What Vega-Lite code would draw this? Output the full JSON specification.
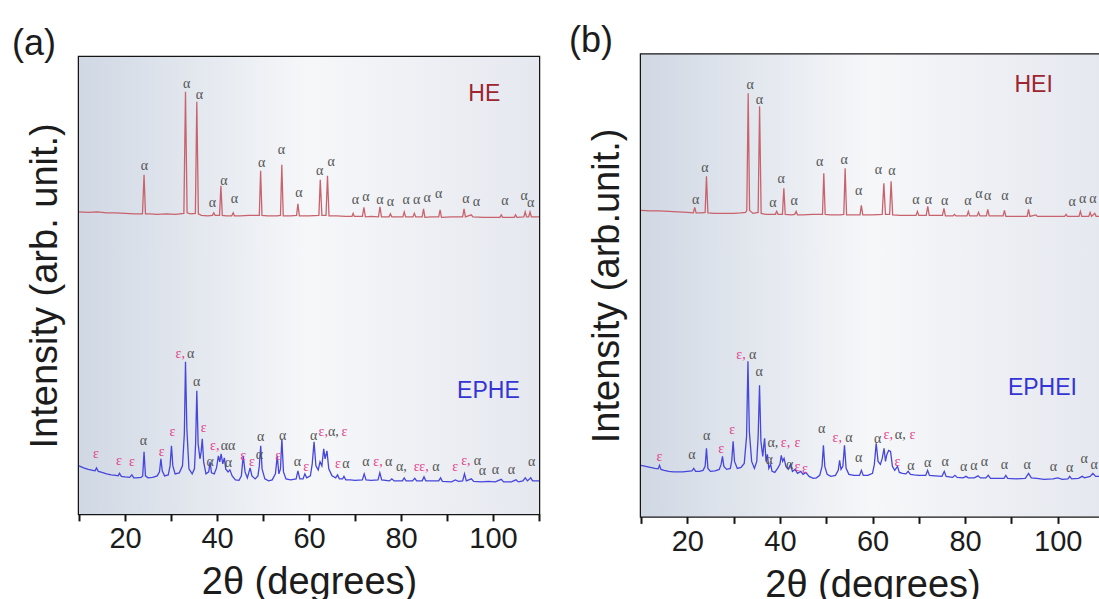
{
  "$schema": "https://vega.github.io/schema/vega-lite/v6.json",
  "background": "white",
  "padding": {"left": 10, "top": 22, "right": 0, "bottom": 0},
  "spacing": 24,
  "align": "each",
  "center": true,
  "config": {
    "view": {"stroke": "#151515", "strokeWidth": 2.5},
    "axisX": {"domain": false, "grid": false, "ticks": true, "tickSize": 7, "tickWidth": 2, "tickColor": "#151515",
      "labelFont": "Liberation Sans", "labelFontSize": 29, "labelColor": "#1c1c1c", "labelPadding": 4,
      "labelOverlap": false, "labelFlush": false, "labelBound": false,
      "titleFont": "Liberation Sans", "titleFontSize": 38, "titleFontWeight": "normal", "titleColor": "#1c1c1c", "titlePadding": 10},
    "axisY": {"domain": false, "grid": false, "ticks": false, "labels": false,
      "titleFont": "Liberation Sans", "titleFontSize": 38, "titleFontWeight": "normal", "titleColor": "#1c1c1c", "titlePadding": 15},
    "title": {"font": "Liberation Sans", "fontSize": 36, "fontWeight": "normal", "color": "#1c1c1c", "anchor": "start", "frame": "group", "baseline": "alphabetic", "offset": -6}
  },
  "datasets": {
    "he": [{"x":10,"y":302},{"x":12,"y":301.5},{"x":14,"y":302},{"x":16,"y":301},{"x":18,"y":301},{"x":20,"y":300.5},{"x":22,"y":300},{"x":23.8,"y":300},{"x":24.14,"y":339},{"x":24.45,"y":300},{"x":25.5,"y":300},{"x":27,"y":299.5},{"x":29,"y":300},{"x":31,"y":299.5},{"x":32.8,"y":300.5},{"x":33.15,"y":422},{"x":33.5,"y":301},{"x":34.2,"y":300},{"x":35.3,"y":300.5},{"x":35.61,"y":412},{"x":35.95,"y":300},{"x":36.6,"y":298.5},{"x":38,"y":298},{"x":39,"y":298.5},{"x":39.3,"y":301},{"x":39.6,"y":298.5},{"x":40.55,"y":298.5},{"x":40.85,"y":328},{"x":41.15,"y":298.5},{"x":42,"y":298},{"x":43.2,"y":298},{"x":43.52,"y":301},{"x":43.8,"y":298},{"x":45,"y":298},{"x":47,"y":298.5},{"x":49.2,"y":298.5},{"x":49.48,"y":343},{"x":49.78,"y":298.5},{"x":51,"y":298},{"x":53,"y":298},{"x":53.8,"y":298.5},{"x":54.09,"y":349},{"x":54.4,"y":298},{"x":56,"y":298},{"x":57.3,"y":298.5},{"x":57.59,"y":310},{"x":57.9,"y":298},{"x":60,"y":298},{"x":62.15,"y":298.5},{"x":62.45,"y":334},{"x":62.8,"y":298.5},{"x":63.7,"y":298.5},{"x":64.02,"y":338},{"x":64.35,"y":298},{"x":66,"y":298},{"x":68,"y":297.5},{"x":69.35,"y":297.5},{"x":69.6,"y":300.5},{"x":69.85,"y":297.5},{"x":71.6,"y":297.5},{"x":71.94,"y":306.5},{"x":72.25,"y":297},{"x":73.5,"y":297.5},{"x":75.1,"y":297},{"x":75.43,"y":307},{"x":75.75,"y":297},{"x":77.4,"y":297},{"x":77.7,"y":300},{"x":78,"y":297},{"x":80.4,"y":297},{"x":80.7,"y":302},{"x":81,"y":297},{"x":82.6,"y":297},{"x":82.9,"y":300.5},{"x":83.2,"y":297},{"x":84.6,"y":297},{"x":84.9,"y":305},{"x":85.2,"y":296.5},{"x":86.5,"y":297},{"x":88.2,"y":297},{"x":88.5,"y":304},{"x":88.8,"y":296.5},{"x":91,"y":297},{"x":93.4,"y":297},{"x":93.7,"y":305},{"x":94,"y":297},{"x":95.3,"y":299},{"x":95.6,"y":297},{"x":98,"y":296.5},{"x":100,"y":296.5},{"x":101.5,"y":296.5},{"x":101.8,"y":299},{"x":102.1,"y":296.5},{"x":104.6,"y":296.5},{"x":104.9,"y":299},{"x":105.2,"y":296.5},{"x":106.7,"y":297},{"x":107,"y":302},{"x":107.3,"y":297},{"x":107.75,"y":297},{"x":108.05,"y":302},{"x":108.35,"y":297},{"x":110,"y":297}],
    "ephe": [{"x":10,"y":48},{"x":11,"y":46},{"x":12,"y":44.5},{"x":13,"y":43.5},{"x":13.5,"y":43},{"x":13.8,"y":46},{"x":14.2,"y":42.5},{"x":15,"y":41.5},{"x":16,"y":40},{"x":17,"y":39},{"x":18,"y":38.5},{"x":18.5,"y":38},{"x":18.8,"y":40.5},{"x":19.2,"y":37.5},{"x":20,"y":37},{"x":21,"y":36.5},{"x":21.5,"y":39},{"x":21.9,"y":36},{"x":22.5,"y":36},{"x":23.5,"y":36.5},{"x":23.85,"y":38},{"x":24.14,"y":62},{"x":24.45,"y":38},{"x":25,"y":36},{"x":26,"y":36.5},{"x":27,"y":38},{"x":27.5,"y":42},{"x":27.8,"y":55},{"x":28.1,"y":43},{"x":28.6,"y":38},{"x":29.4,"y":39},{"x":29.8,"y":48},{"x":30.1,"y":68},{"x":30.4,"y":48},{"x":30.9,"y":40},{"x":31.8,"y":41},{"x":32.5,"y":48},{"x":32.9,"y":80},{"x":33.15,"y":152},{"x":33.45,"y":85},{"x":33.9,"y":45},{"x":34.6,"y":40},{"x":35.1,"y":45},{"x":35.35,"y":70},{"x":35.61,"y":123},{"x":35.9,"y":70},{"x":36.3,"y":55},{"x":36.55,"y":62},{"x":36.8,"y":75},{"x":37.1,"y":52},{"x":37.6,"y":40},{"x":38.2,"y":42},{"x":38.5,"y":52},{"x":38.8,"y":41},{"x":39.4,"y":40},{"x":39.9,"y":46},{"x":40.3,"y":58},{"x":40.6,"y":52},{"x":40.9,"y":60},{"x":41.25,"y":50},{"x":41.6,"y":56},{"x":41.9,"y":45},{"x":42.4,"y":42},{"x":42.8,"y":44},{"x":43.3,"y":38},{"x":44,"y":34},{"x":44.8,"y":33.5},{"x":45.3,"y":38},{"x":45.7,"y":58},{"x":46.1,"y":42},{"x":46.6,"y":36},{"x":47.2,"y":46},{"x":47.6,"y":38},{"x":48.3,"y":35},{"x":48.9,"y":38},{"x":49.2,"y":48},{"x":49.5,"y":68},{"x":49.8,"y":45},{"x":50.4,"y":35},{"x":51.2,"y":33},{"x":52,"y":34},{"x":52.7,"y":40},{"x":53.1,"y":58},{"x":53.45,"y":40},{"x":53.8,"y":45},{"x":54.1,"y":75},{"x":54.45,"y":42},{"x":55,"y":35},{"x":56,"y":34},{"x":57.2,"y":35},{"x":57.6,"y":43},{"x":58,"y":35},{"x":58.7,"y":35},{"x":59.1,"y":40},{"x":59.5,"y":36},{"x":60.3,"y":38},{"x":60.7,"y":50},{"x":61.1,"y":72},{"x":61.5,"y":48},{"x":62,"y":44},{"x":62.4,"y":52},{"x":62.8,"y":48},{"x":63.2,"y":65},{"x":63.5,"y":55},{"x":63.9,"y":63},{"x":64.3,"y":45},{"x":65,"y":38},{"x":65.8,"y":36},{"x":66.2,"y":39},{"x":66.6,"y":35},{"x":67.3,"y":35},{"x":67.6,"y":37.5},{"x":68,"y":34},{"x":69,"y":34},{"x":70,"y":33.5},{"x":71.6,"y":34},{"x":72,"y":40},{"x":72.4,"y":34},{"x":73.5,"y":33.5},{"x":75,"y":34},{"x":75.4,"y":41},{"x":75.8,"y":34},{"x":77.5,"y":33},{"x":78,"y":35},{"x":78.5,"y":33},{"x":80.3,"y":33},{"x":80.7,"y":36},{"x":81.1,"y":33},{"x":82.5,"y":33},{"x":83,"y":35.5},{"x":83.4,"y":33},{"x":84.6,"y":33},{"x":85,"y":37},{"x":85.4,"y":33},{"x":86.5,"y":33},{"x":88.2,"y":33},{"x":88.6,"y":36},{"x":89,"y":32.5},{"x":91,"y":32},{"x":91.8,"y":34},{"x":92.5,"y":32.5},{"x":93.4,"y":33},{"x":93.8,"y":40},{"x":94.2,"y":33},{"x":95.3,"y":35},{"x":95.8,"y":32.5},{"x":97.5,"y":32},{"x":99,"y":32.5},{"x":100.5,"y":32},{"x":101.8,"y":34.5},{"x":102.3,"y":32},{"x":104,"y":32},{"x":105,"y":34},{"x":105.5,"y":32},{"x":106.5,"y":33},{"x":107,"y":36},{"x":107.5,"y":33},{"x":108.2,"y":36},{"x":108.6,"y":33},{"x":110,"y":33}],
    "hei": [{"x":10,"y":306},{"x":12,"y":305.5},{"x":14,"y":305.5},{"x":16,"y":305},{"x":18,"y":304.5},{"x":20,"y":304},{"x":21.3,"y":303.5},{"x":21.6,"y":309},{"x":21.9,"y":303.5},{"x":23,"y":303.5},{"x":23.85,"y":304},{"x":24.14,"y":340},{"x":24.45,"y":303.5},{"x":26,"y":303},{"x":28,"y":303},{"x":30,"y":303},{"x":31.5,"y":303.5},{"x":32.6,"y":304},{"x":32.85,"y":306},{"x":33.15,"y":423},{"x":33.45,"y":306},{"x":34.2,"y":303},{"x":35.3,"y":304},{"x":35.61,"y":410},{"x":35.95,"y":303},{"x":37,"y":302},{"x":38.5,"y":302},{"x":39,"y":302},{"x":39.3,"y":305},{"x":39.6,"y":302},{"x":40.55,"y":302},{"x":40.85,"y":328},{"x":41.15,"y":302},{"x":42.5,"y":301.5},{"x":43.2,"y":302},{"x":43.52,"y":305},{"x":43.8,"y":301.5},{"x":45,"y":301.5},{"x":47,"y":302},{"x":49.2,"y":302},{"x":49.48,"y":343},{"x":49.78,"y":302},{"x":51,"y":301.5},{"x":53,"y":301.5},{"x":53.8,"y":302},{"x":54.09,"y":348},{"x":54.4,"y":301.5},{"x":56,"y":301.5},{"x":57.3,"y":301.5},{"x":57.59,"y":311},{"x":57.9,"y":301.5},{"x":60,"y":301.5},{"x":62.1,"y":302},{"x":62.45,"y":333},{"x":62.8,"y":302},{"x":63.7,"y":302},{"x":64.02,"y":335},{"x":64.35,"y":301.5},{"x":66,"y":301},{"x":68,"y":301},{"x":69.4,"y":301},{"x":69.7,"y":305},{"x":70,"y":301},{"x":71.6,"y":301},{"x":71.94,"y":310},{"x":72.25,"y":301},{"x":73.5,"y":301},{"x":75.1,"y":301},{"x":75.43,"y":308},{"x":75.75,"y":300.5},{"x":77.4,"y":300.5},{"x":77.7,"y":302},{"x":78,"y":300.5},{"x":80.4,"y":300.5},{"x":80.7,"y":305},{"x":81,"y":300.5},{"x":82.6,"y":300.5},{"x":82.9,"y":304},{"x":83.2,"y":300.5},{"x":84.6,"y":300.5},{"x":84.9,"y":307},{"x":85.2,"y":300.5},{"x":86.5,"y":300.5},{"x":88.2,"y":300.5},{"x":88.5,"y":306},{"x":88.8,"y":300},{"x":91,"y":300},{"x":93.4,"y":300},{"x":93.7,"y":307},{"x":94,"y":300},{"x":95.3,"y":301.5},{"x":95.6,"y":300},{"x":98,"y":300},{"x":100,"y":300},{"x":101.5,"y":300},{"x":101.8,"y":302},{"x":102.1,"y":300},{"x":104.6,"y":300},{"x":104.9,"y":305},{"x":105.2,"y":300},{"x":106.7,"y":300},{"x":107,"y":304},{"x":107.3,"y":300},{"x":108,"y":303},{"x":108.3,"y":300},{"x":110,"y":300}],
    "ephei": [{"x":10,"y":51},{"x":11,"y":50},{"x":12,"y":49},{"x":13,"y":48},{"x":13.7,"y":47.5},{"x":14,"y":51},{"x":14.3,"y":47},{"x":15,"y":46},{"x":16,"y":45},{"x":17,"y":44.5},{"x":18,"y":44.5},{"x":19,"y":44.5},{"x":20,"y":45},{"x":21,"y":45.5},{"x":21.4,"y":48},{"x":21.8,"y":45},{"x":22.6,"y":45},{"x":23.4,"y":46},{"x":23.85,"y":50},{"x":24.14,"y":68},{"x":24.45,"y":48},{"x":25,"y":45},{"x":26,"y":45.5},{"x":26.9,"y":47},{"x":27.3,"y":52},{"x":27.6,"y":60},{"x":27.9,"y":50},{"x":28.5,"y":47},{"x":29.3,"y":48},{"x":29.6,"y":56},{"x":29.9,"y":75},{"x":30.2,"y":55},{"x":30.8,"y":48},{"x":31.6,"y":49},{"x":32.3,"y":53},{"x":32.8,"y":80},{"x":33.1,"y":155},{"x":33.4,"y":85},{"x":33.9,"y":55},{"x":34.5,"y":48},{"x":35,"y":55},{"x":35.3,"y":80},{"x":35.6,"y":131},{"x":35.9,"y":75},{"x":36.3,"y":60},{"x":36.5,"y":70},{"x":36.7,"y":78},{"x":37,"y":55},{"x":37.3,"y":62},{"x":37.6,"y":48},{"x":38,"y":52},{"x":38.3,"y":45},{"x":38.9,"y":44},{"x":39.5,"y":48},{"x":40,"y":52},{"x":40.3,"y":61},{"x":40.6,"y":55},{"x":40.9,"y":58},{"x":41.3,"y":50},{"x":41.8,"y":47},{"x":42.3,"y":52},{"x":42.7,"y":45},{"x":43.3,"y":47},{"x":43.8,"y":43},{"x":44.5,"y":45},{"x":45,"y":42},{"x":45.6,"y":44},{"x":46.3,"y":40},{"x":47.2,"y":38},{"x":47.9,"y":38.5},{"x":48.6,"y":41},{"x":49.1,"y":50},{"x":49.4,"y":71},{"x":49.7,"y":50},{"x":50.2,"y":42},{"x":51,"y":40},{"x":52,"y":41},{"x":52.6,"y":46},{"x":52.9,"y":56},{"x":53.2,"y":47},{"x":53.6,"y":50},{"x":53.95,"y":71},{"x":54.3,"y":48},{"x":54.9,"y":42},{"x":56,"y":41},{"x":57.2,"y":41},{"x":57.6,"y":46},{"x":58,"y":41},{"x":59,"y":41},{"x":60,"y":43},{"x":60.4,"y":52},{"x":60.8,"y":73},{"x":61.2,"y":55},{"x":61.7,"y":52},{"x":62.1,"y":58},{"x":62.5,"y":68},{"x":62.8,"y":55},{"x":63.1,"y":62},{"x":63.5,"y":66},{"x":63.9,"y":65},{"x":64.3,"y":50},{"x":64.8,"y":46},{"x":65.4,"y":50},{"x":65.8,"y":44},{"x":66.5,"y":43},{"x":67.2,"y":42.5},{"x":67.7,"y":45},{"x":68.2,"y":42},{"x":69,"y":41.5},{"x":70,"y":41},{"x":71.5,"y":41},{"x":71.9,"y":46},{"x":72.3,"y":41},{"x":73.5,"y":40.5},{"x":75,"y":40},{"x":75.5,"y":45},{"x":75.9,"y":40},{"x":77.3,"y":39},{"x":77.8,"y":41},{"x":78.3,"y":39},{"x":79.6,"y":38.5},{"x":80.2,"y":40},{"x":80.7,"y":38.5},{"x":82,"y":38.5},{"x":82.8,"y":40.5},{"x":83.3,"y":38.5},{"x":84.5,"y":38.5},{"x":85,"y":41},{"x":85.5,"y":38},{"x":87,"y":38},{"x":88.4,"y":38},{"x":88.8,"y":41},{"x":89.2,"y":38},{"x":91,"y":37.5},{"x":93,"y":38},{"x":93.7,"y":43},{"x":94.3,"y":38.5},{"x":95.5,"y":38},{"x":97,"y":37},{"x":99,"y":37.5},{"x":100,"y":38.5},{"x":101,"y":37},{"x":102.2,"y":37.5},{"x":102.6,"y":40},{"x":103,"y":37.5},{"x":104.5,"y":38},{"x":105.3,"y":40},{"x":105.8,"y":38.5},{"x":107,"y":40},{"x":107.6,"y":43},{"x":108.2,"y":40},{"x":109,"y":40},{"x":110,"y":40}],
    "tagsA": [{"x":24.2,"y":348,"t":"α"},{"x":33.4,"y":430,"t":"α"},{"x":36.2,"y":419,"t":"α"},{"x":39,"y":311,"t":"α"},{"x":41.5,"y":333,"t":"α"},{"x":43.8,"y":315,"t":"α"},{"x":49.7,"y":351,"t":"α"},{"x":54,"y":364,"t":"α"},{"x":57.8,"y":321,"t":"α"},{"x":62.3,"y":343,"t":"α"},{"x":64.8,"y":352,"t":"α"},{"x":70.1,"y":314,"t":"α"},{"x":72.4,"y":317,"t":"α"},{"x":75.4,"y":314,"t":"α"},{"x":77.7,"y":312,"t":"α"},{"x":81.1,"y":314,"t":"α"},{"x":83.4,"y":314,"t":"α"},{"x":85.7,"y":316,"t":"α"},{"x":88.2,"y":320,"t":"α"},{"x":94.1,"y":315,"t":"α"},{"x":96.4,"y":312,"t":"α"},{"x":102.6,"y":313,"t":"α"},{"x":106.8,"y":318,"t":"α"},{"x":108.2,"y":311,"t":"α"},
      {"x":13.7,"y":60,"t":"ε"},{"x":18.7,"y":53,"t":"ε"},{"x":21.5,"y":52,"t":"ε"},{"x":24,"y":73,"t":"α"},{"x":28,"y":62,"t":"ε"},{"x":30.3,"y":82,"t":"ε"},{"x":32,"y":160,"t":"ε,"},{"x":34.3,"y":160,"t":"α"},{"x":35.6,"y":132,"t":"α"},{"x":37.1,"y":86,"t":"ε"},{"x":38.5,"y":52,"t":"α"},{"x":39.5,"y":68,"t":"ε,"},{"x":42.4,"y":68,"t":"αα"},{"x":42.5,"y":51,"t":"α"},{"x":45.7,"y":58,"t":"ε"},{"x":47.6,"y":52,"t":"ε"},{"x":49.2,"y":59,"t":"α"},{"x":49.5,"y":77,"t":"α"},{"x":53.3,"y":58,"t":"ε"},{"x":54.3,"y":78,"t":"α"},{"x":57.5,"y":52,"t":"α"},{"x":59.4,"y":47,"t":"ε"},{"x":61,"y":78,"t":"α"},{"x":63.1,"y":82,"t":"ε,"},{"x":65.3,"y":82,"t":"α,"},{"x":67.7,"y":82,"t":"ε"},{"x":66.3,"y":50,"t":"ε"},{"x":68,"y":50,"t":"α"},{"x":72.4,"y":52,"t":"α"},{"x":75,"y":52,"t":"ε,"},{"x":77.3,"y":52,"t":"α"},{"x":80.1,"y":47,"t":"α,"},{"x":83.4,"y":47,"t":"ε"},{"x":85,"y":47,"t":"ε,"},{"x":87.6,"y":47,"t":"α"},{"x":91.8,"y":47,"t":"ε"},{"x":94.1,"y":53,"t":"ε,"},{"x":96.6,"y":53,"t":"α"},{"x":97.7,"y":43,"t":"α"},{"x":100.5,"y":44,"t":"α"},{"x":104,"y":44,"t":"α"},{"x":108.4,"y":52,"t":"α"}],
    "tagsB": [{"x":21.8,"y":316,"t":"α"},{"x":23.8,"y":348,"t":"α"},{"x":33.6,"y":431,"t":"α"},{"x":35.6,"y":416,"t":"α"},{"x":38.5,"y":313,"t":"α"},{"x":40.3,"y":337,"t":"α"},{"x":43.1,"y":315,"t":"α"},{"x":48.6,"y":354,"t":"α"},{"x":53.9,"y":356,"t":"α"},{"x":57,"y":325,"t":"α"},{"x":61.3,"y":346,"t":"α"},{"x":64.2,"y":345,"t":"α"},{"x":69.4,"y":316,"t":"α"},{"x":72.1,"y":316,"t":"α"},{"x":75.6,"y":315,"t":"α"},{"x":80.6,"y":315,"t":"α"},{"x":83,"y":322,"t":"α"},{"x":84.9,"y":320,"t":"α"},{"x":88.6,"y":320,"t":"α"},{"x":93.7,"y":316,"t":"α"},{"x":103.1,"y":314,"t":"α"},{"x":105.4,"y":317,"t":"α"},{"x":107.6,"y":317,"t":"α"},
      {"x":14,"y":59,"t":"ε"},{"x":21,"y":61,"t":"α"},{"x":24.2,"y":80,"t":"α"},{"x":27.3,"y":67,"t":"ε"},{"x":29.7,"y":86,"t":"ε"},{"x":31.6,"y":161,"t":"ε,"},{"x":34.1,"y":161,"t":"α"},{"x":35.5,"y":144,"t":"α"},{"x":38.5,"y":73,"t":"α,"},{"x":41.2,"y":73,"t":"ε,"},{"x":43.8,"y":73,"t":"ε"},{"x":37.7,"y":56,"t":"α"},{"x":42.1,"y":51,"t":"α"},{"x":43.8,"y":49,"t":"ε"},{"x":45.4,"y":47,"t":"ε"},{"x":49,"y":87,"t":"α"},{"x":52.4,"y":78,"t":"ε,"},{"x":54.9,"y":78,"t":"α"},{"x":57,"y":58,"t":"α"},{"x":61.1,"y":77,"t":"α"},{"x":63.4,"y":81,"t":"ε,"},{"x":66,"y":81,"t":"α,"},{"x":68.6,"y":81,"t":"ε"},{"x":65.4,"y":54,"t":"ε"},{"x":68.3,"y":50,"t":"α"},{"x":71.9,"y":53,"t":"α"},{"x":75.7,"y":54,"t":"α"},{"x":79.7,"y":49,"t":"α"},{"x":81.9,"y":50,"t":"α"},{"x":84.2,"y":54,"t":"α"},{"x":88.5,"y":51,"t":"α"},{"x":93.4,"y":51,"t":"α"},{"x":99.1,"y":49,"t":"α"},{"x":102.6,"y":48,"t":"α"},{"x":105.7,"y":57,"t":"α"},{"x":107.9,"y":51,"t":"α"}],
    "namesA": [{"x":98.1,"y":420,"t":"HE"},{"x":99,"y":123,"t":"EPHE"}],
    "namesB": [{"x":94.8,"y":431,"t":"HEI"},{"x":96.7,"y":128,"t":"EPHEI"}]
  },
  "hconcat": [
    {
      "width": 460,
      "height": 457,
      "title": {"text": "(a)", "dx": -67},
      "layer": [
        {"data": {"values": [{}]},
          "mark": {"type": "rect", "fill": {"gradient": "linear", "x1": 0, "y1": 0, "x2": 1, "y2": 0,
            "stops": [{"offset": 0, "color": "#d0d8e4"}, {"offset": 0.5, "color": "#f6f7f9"}, {"offset": 1, "color": "#e5e8ef"}]}},
          "encoding": {
            "x": {"datum": 10, "type": "quantitative", "scale": {"domain": [10, 110], "nice": false, "zero": false},
              "axis": {"title": "2θ (degrees)", "values": [10, 20, 30, 40, 50, 60, 70, 80, 90, 100, 110],
                "labelExpr": "datum.value % 20 === 0 && datum.value >= 20 && datum.value <= 100 ? datum.label : ''"}},
            "x2": {"datum": 110},
            "y": {"datum": 0, "type": "quantitative", "scale": {"domain": [0, 457], "nice": false, "zero": false},
              "axis": {"title": "Intensity (arb. unit.)"}},
            "y2": {"datum": 457}}},
        {
          "encoding": {
            "x": {"field": "x", "type": "quantitative", "scale": {"domain": [10, 110], "nice": false, "zero": false},
              "axis": {"title": "2θ (degrees)", "values": [10, 20, 30, 40, 50, 60, 70, 80, 90, 100, 110],
                "labelExpr": "datum.value % 20 === 0 && datum.value >= 20 && datum.value <= 100 ? datum.label : ''"}},
            "y": {"field": "y", "type": "quantitative", "scale": {"domain": [0, 457], "nice": false, "zero": false},
              "axis": {"title": "Intensity (arb. unit.)"}}
          },
          "layer": [
            {"data": {"name": "he"}, "mark": {"type": "line", "color": "#c8636d", "strokeWidth": 1.3}},
            {"data": {"name": "ephe"}, "mark": {"type": "line", "color": "#4646dc", "strokeWidth": 1.3}},
            {"data": {"name": "tagsA"},
              "mark": {"type": "text", "font": "Liberation Serif", "fontSize": 14, "align": "center", "baseline": "middle"},
              "encoding": {"text": {"field": "t"},
                "color": {"condition": {"test": "indexof(datum.t, 'ε') >= 0", "value": "#e2418c"}, "value": "#555555"}}},
            {"data": {"name": "namesA"},
              "mark": {"type": "text", "font": "Liberation Sans", "fontSize": 23, "align": "center", "baseline": "middle"},
              "encoding": {"text": {"field": "t"},
                "color": {"condition": {"test": "indexof(datum.t, 'EP') === 0", "value": "#3434d4"}, "value": "#9c2530"}}}
          ]
        }
      ]
    },
    {
      "width": 463,
      "height": 462,
      "title": {"text": "(b)", "dx": -72},
      "layer": [
        {"data": {"values": [{}]},
          "mark": {"type": "rect", "fill": {"gradient": "linear", "x1": 0, "y1": 0, "x2": 1, "y2": 0,
            "stops": [{"offset": 0, "color": "#d0d8e4"}, {"offset": 0.5, "color": "#f6f7f9"}, {"offset": 1, "color": "#e5e8ef"}]}},
          "encoding": {
            "x": {"datum": 10, "type": "quantitative", "scale": {"domain": [10, 110], "nice": false, "zero": false},
              "axis": {"title": "2θ (degrees)", "values": [10, 20, 30, 40, 50, 60, 70, 80, 90, 100, 110],
                "labelExpr": "datum.value % 20 === 0 && datum.value >= 20 && datum.value <= 100 ? datum.label : ''"}},
            "x2": {"datum": 110},
            "y": {"datum": 0, "type": "quantitative", "scale": {"domain": [0, 462], "nice": false, "zero": false},
              "axis": {"title": "Intensity (arb.unit.)"}},
            "y2": {"datum": 462}}},
        {
          "encoding": {
            "x": {"field": "x", "type": "quantitative", "scale": {"domain": [10, 110], "nice": false, "zero": false},
              "axis": {"title": "2θ (degrees)", "values": [10, 20, 30, 40, 50, 60, 70, 80, 90, 100, 110],
                "labelExpr": "datum.value % 20 === 0 && datum.value >= 20 && datum.value <= 100 ? datum.label : ''"}},
            "y": {"field": "y", "type": "quantitative", "scale": {"domain": [0, 462], "nice": false, "zero": false},
              "axis": {"title": "Intensity (arb.unit.)"}}
          },
          "layer": [
            {"data": {"name": "hei"}, "mark": {"type": "line", "color": "#c8636d", "strokeWidth": 1.3}},
            {"data": {"name": "ephei"}, "mark": {"type": "line", "color": "#4646dc", "strokeWidth": 1.3}},
            {"data": {"name": "tagsB"},
              "mark": {"type": "text", "font": "Liberation Serif", "fontSize": 14, "align": "center", "baseline": "middle"},
              "encoding": {"text": {"field": "t"},
                "color": {"condition": {"test": "indexof(datum.t, 'ε') >= 0", "value": "#e2418c"}, "value": "#555555"}}},
            {"data": {"name": "namesB"},
              "mark": {"type": "text", "font": "Liberation Sans", "fontSize": 23, "align": "center", "baseline": "middle"},
              "encoding": {"text": {"field": "t"},
                "color": {"condition": {"test": "indexof(datum.t, 'EP') === 0", "value": "#3434d4"}, "value": "#9c2530"}}}
          ]
        }
      ]
    }
  ]
}
